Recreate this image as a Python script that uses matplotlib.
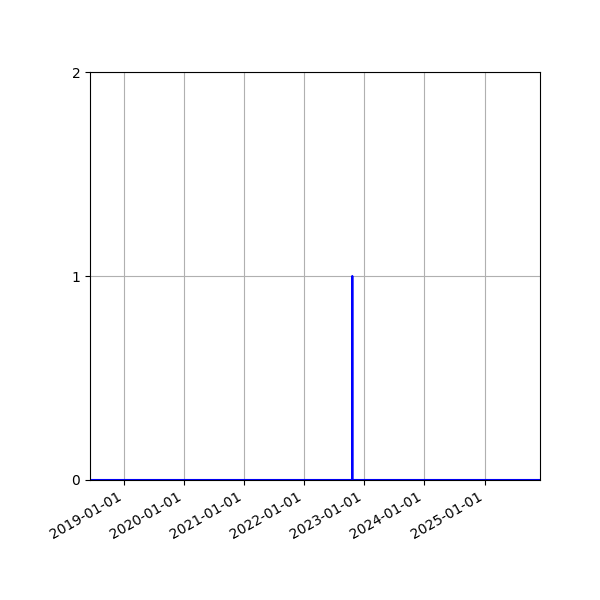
import matplotlib
matplotlib.use('Agg')
import matplotlib.pyplot as plt
import matplotlib.dates as mdates
import pandas as pd

# event counts (zero everywhere except one day)
dates = pd.to_datetime(['2018-06-11', '2022-10-20', '2022-10-21', '2022-10-22', '2025-12-04'])
counts = [0, 0, 1, 0, 0]

x_start = pd.Timestamp('2018-06-11')
x_end = pd.Timestamp('2025-12-04')

fig, ax = plt.subplots(figsize=(6, 6), dpi=100)
fig.subplots_adjust(left=0.15, right=0.9, top=0.88, bottom=0.2)

ax.plot(dates, counts, color='blue')
ax.set_xlim(x_start, x_end)
ax.set_ylim(0, 2)
ax.set_yticks([0, 1, 2])
ax.xaxis.set_major_locator(mdates.YearLocator())
ax.xaxis.set_major_formatter(mdates.DateFormatter('%Y-%m-%d'))
ax.grid(True)

for lbl in ax.get_xticklabels():
    lbl.set_rotation(30)
    lbl.set_ha('right')

plt.savefig('out.png')
